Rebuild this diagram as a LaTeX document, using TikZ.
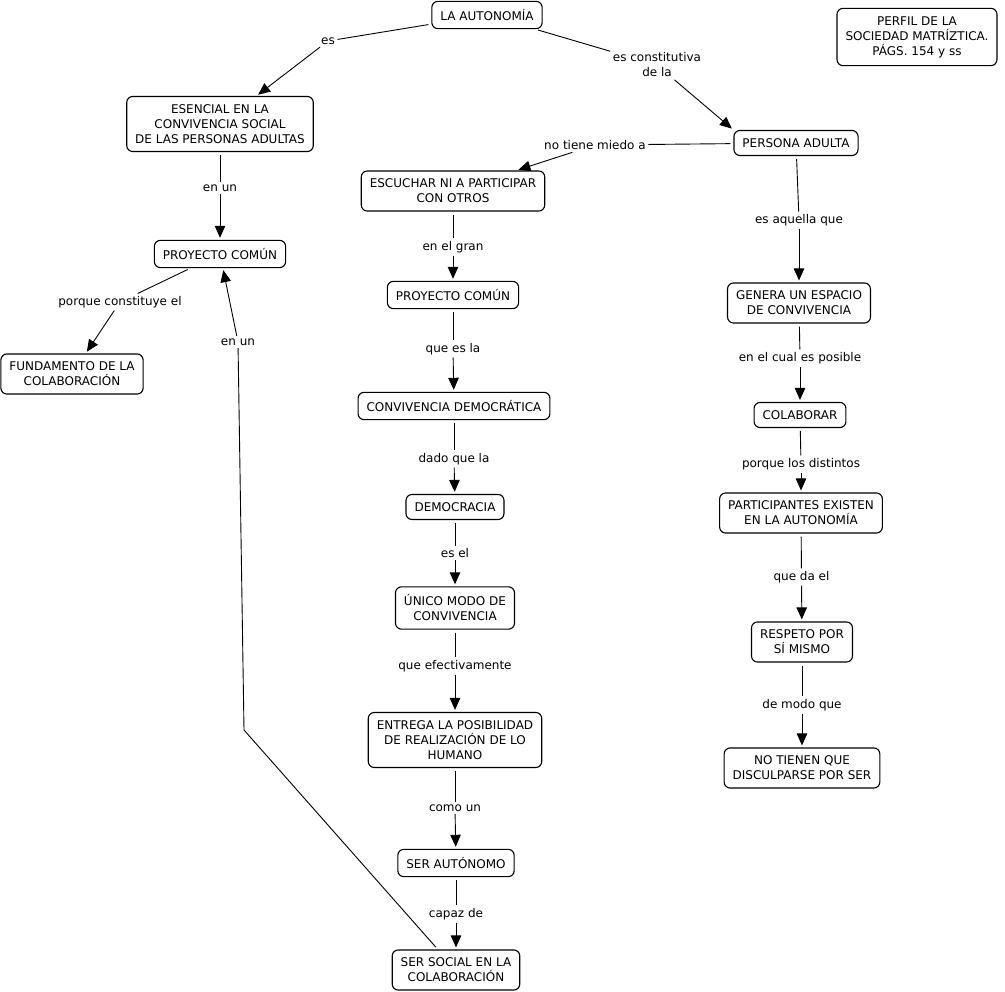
\documentclass[tikz,border=0pt]{standalone}
\usepackage{fontspec}
\setmainfont{DejaVu Sans}
\usetikzlibrary{arrows.meta}
\begin{document}
\begin{tikzpicture}[x=1pt,y=-1pt,
 concept/.style={draw, rounded corners=6pt, line width=1.1pt, align=center, inner xsep=8.5pt, inner ysep=8pt, font=\fontsize{12}{15}\selectfont, fill=white},
 lnk/.style={align=center, inner sep=2.5pt, font=\fontsize{12}{15}\selectfont},
 con/.style={line width=0.9pt, shorten <=3pt},
 arr/.style={line width=0.9pt, -{Triangle[length=12pt,width=10.5pt]}, shorten >=2pt},
]
\useasboundingbox (0,0) rectangle (1005,992);
% concepts
\node[concept] (auto) at (487,15) {LA AUTONOMÍA};
\node[concept] (perfil) at (917,37) {PERFIL DE LA\\SOCIEDAD MATRÍZTICA.\\PÁGS. 154 y ss};
\node[concept] (esen) at (220,124) {ESENCIAL EN LA\\CONVIVENCIA SOCIAL\\DE LAS PERSONAS ADULTAS};
\node[concept] (pa) at (796,143) {PERSONA ADULTA};
\node[concept] (esc) at (453,191) {ESCUCHAR NI A PARTICIPAR\\CON OTROS};
\node[concept] (pc1) at (220,254) {PROYECTO COMÚN};
\node[concept] (pc2) at (453,295) {PROYECTO COMÚN};
\node[concept] (gen) at (799,303) {GENERA UN ESPACIO\\DE CONVIVENCIA};
\node[concept] (fund) at (72,374) {FUNDAMENTO DE LA\\COLABORACIÓN};
\node[concept] (cd) at (454,406) {CONVIVENCIA DEMOCRÁTICA};
\node[concept] (col) at (800,415) {COLABORAR};
\node[concept] (dem) at (455,507) {DEMOCRACIA};
\node[concept] (part) at (801,513) {PARTICIPANTES EXISTEN\\EN LA AUTONOMÍA};
\node[concept] (unico) at (455,608) {ÚNICO MODO DE\\CONVIVENCIA};
\node[concept] (resp) at (802,642) {RESPETO POR\\SÍ MISMO};
\node[concept] (ent) at (455,740) {ENTREGA LA POSIBILIDAD\\DE REALIZACIÓN DE LO\\HUMANO};
\node[concept] (nt) at (802,768) {NO TIENEN QUE\\DISCULPARSE POR SER};
\node[concept] (sa) at (456,863) {SER AUTÓNOMO};
\node[concept] (ss) at (456,970) {SER SOCIAL EN LA\\COLABORACIÓN};
% linking phrases
\node[lnk] (l1) at (328,41) {es};
\node[lnk] (l2) at (657,65) {es constitutiva\\de la};
\node[lnk] (l3) at (595,145) {no tiene miedo a};
\node[lnk] (l4) at (220,188) {en un};
\node[lnk] (l5) at (453,247) {en el gran};
\node[lnk] (l6) at (799,220) {es aquella que};
\node[lnk] (l7) at (120,302) {porque constituye el};
\node[lnk] (l8) at (238,342) {en un};
\node[lnk] (l9) at (453,349) {que es la};
\node[lnk] (l10) at (800,358) {en el cual es posible};
\node[lnk] (l11) at (454,459) {dado que la};
\node[lnk] (l12) at (801,464) {porque los distintos};
\node[lnk] (l13) at (455,553) {es el};
\node[lnk] (l14) at (801.5,577) {que da el};
\node[lnk] (l15) at (455,666) {que efectivamente};
\node[lnk] (l16) at (802,705) {de modo que};
\node[lnk] (l17) at (455,808) {como un};
\node[lnk] (l18) at (456,914) {capaz de};
\coordinate (bend) at (244,730);
% connectors
\draw[con] (auto) -- (l1); \draw[arr] (l1) -- (esen);
\draw[con] (auto) -- (l2); \draw[arr] (l2) -- (pa.north west);
\draw[con] (pa) -- (l3); \draw[arr] (l3) -- (esc);
\draw[con] (esen) -- (l4); \draw[arr] (l4) -- (pc1);
\draw[con] (esc) -- (l5); \draw[arr] (l5) -- (pc2);
\draw[con] (pa) -- (l6); \draw[arr] (l6) -- (gen);
\draw[con] (pc1) -- (l7); \draw[arr] (l7) -- (fund);
\draw[con] (ss) -- (bend) -- (l8); \draw[arr] (l8) -- (pc1);
\draw[con] (pc2) -- (l9); \draw[arr] (l9) -- (cd);
\draw[con] (gen) -- (l10); \draw[arr] (l10) -- (col);
\draw[con] (cd) -- (l11); \draw[arr] (l11) -- (dem);
\draw[con] (col) -- (l12); \draw[arr] (l12) -- (part);
\draw[con] (dem) -- (l13); \draw[arr] (l13) -- (unico);
\draw[con] (part) -- (l14); \draw[arr] (l14) -- (resp);
\draw[con] (unico) -- (l15); \draw[arr] (l15) -- (ent);
\draw[con] (resp) -- (l16); \draw[arr] (l16) -- (nt);
\draw[con] (ent) -- (l17); \draw[arr] (l17) -- (sa);
\draw[con] (sa) -- (l18); \draw[arr] (l18) -- (ss);
\end{tikzpicture}
\end{document}
